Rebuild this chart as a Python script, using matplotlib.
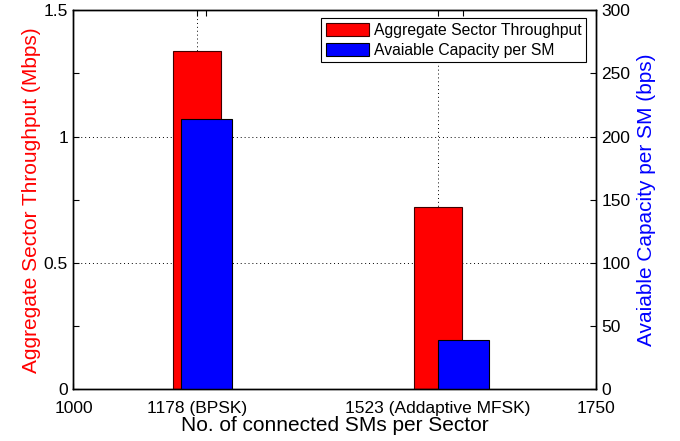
import numpy as np
import matplotlib
matplotlib.use('Agg')
from matplotlib import pyplot as plt
from matplotlib.ticker import MultipleLocator

plt.rcParams['font.family'] = ['Liberation Sans', 'DejaVu Sans']

# data
sm_counts = [1178, 1523]
throughput_mbps = [1.34, 0.722]          # left axis
capacity_pos = [1191, 1560]              # blue bars sit a bit to the right
capacity_bps = [214, 39]                 # right axis
xtick_vals = [1000, 1178, 1523, 1750]
xtick_labels = ['1000', '1178 (BPSK)', '1523 (Addaptive MFSK)', '1750']

fig = plt.figure(figsize=(6.8, 4.41), dpi=100)
ax = fig.add_axes([0.108, 0.117, 0.768, 0.86])
ax2 = ax.twinx()

ax.bar(sm_counts, throughput_mbps, width=69, color='red', edgecolor='#400000',
       linewidth=0.8, label='Aggregate Sector Throughput', zorder=2)
ax2.bar(capacity_pos, capacity_bps, width=74, color='blue', edgecolor='black',
        linewidth=0.8, label='Avaiable Capacity per SM', zorder=2)

ax.set_xlim(1000, 1750)
ax.set_ylim(0, 1.5)
ax2.set_ylim(0, 300)

ax.set_xticks(xtick_vals)
ax.set_xticklabels(xtick_labels)
ax.set_yticks([0, 0.5, 1, 1.5])
ax.set_yticklabels(['0', '0.5', '1', '1.5'])
ax.yaxis.set_minor_locator(MultipleLocator(0.25))
ax2.set_yticks(np.arange(0, 301, 50))

ax.tick_params(direction='in', labelsize=12.5, length=4, width=0.8,
               top=True, pad=4)
ax.tick_params(axis='x', pad=8)
ax.tick_params(which='minor', direction='in', length=4, width=0.8, left=True)
ax2.tick_params(direction='in', labelsize=12.5, length=4, width=0.8, pad=4)

# extra top ticks at the blue bar positions
top = ax.secondary_xaxis('top')
top.set_xticks(capacity_pos)
top.tick_params(direction='in', length=4, width=0.8, labeltop=False)
top.spines['top'].set_visible(False)

# dotted grid only at labelled ticks
for xv in sm_counts:
    ax.axvline(xv, color='black', linestyle=(0, (1, 3)), linewidth=0.7, zorder=1)
for yv in [0.5, 1.0]:
    ax.axhline(yv, color='black', linestyle=(0, (1, 3)), linewidth=0.7, zorder=1)

for sp in list(ax.spines.values()) + list(ax2.spines.values()):
    sp.set_linewidth(1.0)

ax.set_xlabel('No. of connected SMs per Sector', fontsize=15, labelpad=0)
ax.set_ylabel('Aggregate Sector Throughput (Mbps)', fontsize=15, color='red', labelpad=2)
ax2.set_ylabel('Avaiable Capacity per SM (bps)', fontsize=15, color='blue', labelpad=5)

h1, l1 = ax.get_legend_handles_labels()
h2, l2 = ax2.get_legend_handles_labels()
leg = ax2.legend(h1 + h2, l1 + l2, loc='upper right', fontsize=11.3,
                 bbox_to_anchor=(0.982, 0.979), fancybox=False, framealpha=1,
                 edgecolor='black', borderpad=0.3, handlelength=2.75,
                 handleheight=0.9, labelspacing=0.3, handletextpad=0.3,
                 borderaxespad=0)
leg.get_frame().set_linewidth(0.8)

fig.savefig('out.png', dpi=100)
